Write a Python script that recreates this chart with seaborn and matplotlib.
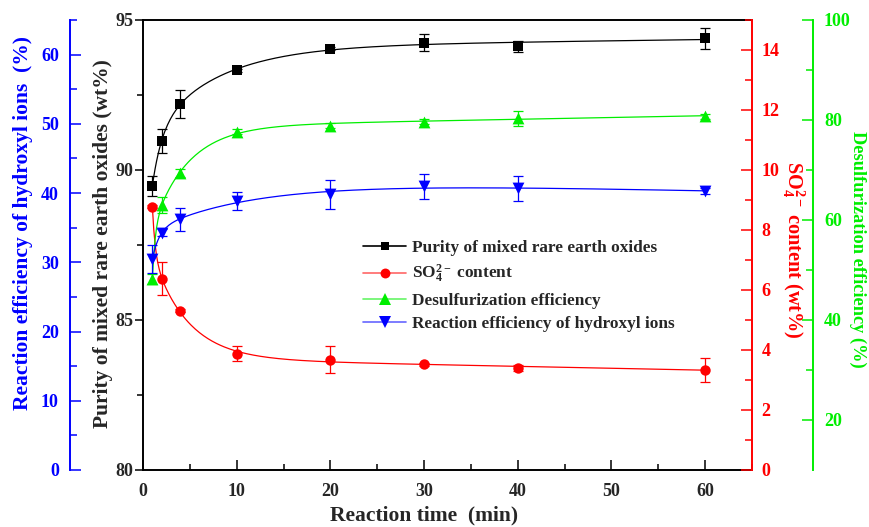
import numpy as np
import pandas as pd
import matplotlib
matplotlib.use("Agg")
import matplotlib.pyplot as plt
import seaborn as sns
from matplotlib.lines import Line2D
from matplotlib.ticker import MultipleLocator
from matplotlib.legend_handler import HandlerTuple

# ---- measured data ----
time_min = [1, 2, 4, 10, 20, 30, 40, 60]

purity = [89.48, 90.98, 92.21, 93.32, 94.05, 94.25, 94.13, 94.39]
purity_err = [0.33, 0.40, 0.47, 0.05, 0.05, 0.27, 0.18, 0.36]

so4 = [8.78, 6.38, 5.31, 3.88, 3.67, 3.53, 3.41, 3.34]
so4_err = [0.05, 0.54, 0.05, 0.24, 0.45, 0.05, 0.10, 0.39]

desulf = [48.2, 63.0, 69.4, 77.7, 78.9, 79.7, 80.4, 80.8]
desulf_err = [1.0, 1.6, 0.8, 0.5, 0.5, 0.5, 1.5, 0.5]

hydroxyl = [30.5, 34.25, 36.2, 38.9, 39.8, 41.0, 40.7, 40.3]
hydroxyl_err = [2.0, 0.5, 1.7, 1.3, 2.1, 1.8, 1.8, 0.5]

series_names = ["Purity of mixed rare earth oxides",
                r"SO$_\mathbf{4}^\mathbf{2-}$ content",
                "Desulfurization efficiency",
                "Reaction efficiency of hydroxyl ions"]

BLACK, RED, GREEN, BLUE = "#000000", "#ff0000", "#00ee00", "#0000ff"

sns.set_theme(style="ticks")
plt.rcParams["font.family"] = ["Liberation Serif", "DejaVu Serif"]
plt.rcParams["font.weight"] = "bold"
plt.rcParams["axes.labelweight"] = "bold"
plt.rcParams["mathtext.fontset"] = "custom"
plt.rcParams["mathtext.rm"] = "Liberation Serif:bold"
plt.rcParams["mathtext.bf"] = "Liberation Serif:bold"
plt.rcParams["mathtext.it"] = "Liberation Serif:bold:italic"
plt.rcParams["mathtext.default"] = "rm"


def smooth_fit(x, y, xs):
    """Least-squares fit of a + b*exp(-x/t1) + c*exp(-x/t2) + d*x."""
    x = np.asarray(x, float)
    y = np.asarray(y, float)
    best = None
    for t1 in np.geomspace(0.3, 15, 45):
        for t2 in np.geomspace(2, 200, 45):
            if t2 <= t1 * 1.5:
                continue
            A = np.column_stack([np.ones_like(x), np.exp(-x / t1),
                                 np.exp(-x / t2), x])
            coef, *_ = np.linalg.lstsq(A, y, rcond=None)
            if coef[1] * coef[2] < 0:
                continue
            r = np.sum((A @ coef - y) ** 2)
            if best is None or r < best[0]:
                best = (r, t1, t2, coef)
    _, t1, t2, c = best
    return c[0] + c[1] * np.exp(-xs / t1) + c[2] * np.exp(-xs / t2) + c[3] * xs


fig = plt.figure(figsize=(8.69, 5.27), dpi=100)
ax = fig.add_axes([143 / 869, 1 - 470 / 527, 609 / 869, 450 / 527])
ax_red = ax.twinx()
ax_green = ax.twinx()
ax_blue = ax.twinx()

ax_green.spines["right"].set_position(("axes", 1.10))
ax_blue.spines["left"].set_position(("axes", -0.12))
ax_blue.spines["left"].set_visible(True)
ax_blue.spines["right"].set_visible(False)
ax_blue.yaxis.set_label_position("left")
ax_blue.yaxis.set_ticks_position("left")

xs = np.linspace(1, 60, 400)
specs = [
    (ax, purity, purity_err, BLACK, "s", 6.5),
    (ax_red, so4, so4_err, RED, "o", 7.5),
    (ax_green, desulf, desulf_err, GREEN, "^", 8.5),
    (ax_blue, hydroxyl, hydroxyl_err, BLUE, "v", 8.5),
]

for a, vals, errs, col, mk, ms in specs:
    curve = pd.DataFrame({"t": xs, "v": smooth_fit(time_min, vals, xs)})
    sns.lineplot(data=curve, x="t", y="v", ax=a, color=col, lw=0.9,
                 legend=False, zorder=2)
    a.errorbar(time_min, vals, yerr=errs, fmt="none", ecolor=col,
               elinewidth=0.9, capsize=3.3, capthick=0.9, zorder=3)
    pts = pd.DataFrame({"t": time_min, "v": vals})
    sns.scatterplot(data=pts, x="t", y="v", ax=a, color=col, marker=mk,
                    s=ms ** 2, edgecolor=col, linewidth=0, legend=False,
                    zorder=4)
    a.set_xlabel("")
    a.set_ylabel("")

# ---- axes limits & ticks ----
ax.set_xlim(0, 65)
ax.set_ylim(80, 95)
ax_red.set_ylim(0, 15)
ax_green.set_ylim(10, 100)
ax_blue.set_ylim(0, 65)

ax.xaxis.set_major_locator(MultipleLocator(10))
ax.xaxis.set_minor_locator(MultipleLocator(5))
ax.yaxis.set_major_locator(MultipleLocator(5))
ax.yaxis.set_minor_locator(MultipleLocator(2.5))
ax_red.yaxis.set_major_locator(MultipleLocator(2))
ax_red.yaxis.set_minor_locator(MultipleLocator(1))
ax_green.set_yticks([20, 40, 60, 80, 100])
ax_green.set_yticks([30, 50, 70, 90], minor=True)
ax_blue.yaxis.set_major_locator(MultipleLocator(10))
ax_blue.yaxis.set_minor_locator(MultipleLocator(5))

tick_fs = 13
ax.tick_params(axis="x", which="both", direction="in", labelsize=tick_fs,
               width=1.1, color=BLACK, pad=9)
ax.tick_params(axis="x", which="major", length=7)
ax.tick_params(axis="x", which="minor", length=4)
ax.tick_params(axis="y", which="both", direction="out", labelsize=tick_fs,
               width=1.1, color=BLACK, pad=1)
ax.tick_params(axis="y", which="major", length=6)
ax.tick_params(axis="y", which="minor", length=4)

for a, col, side, pad in [(ax_red, RED, "right", 7), (ax_green, GREEN, "right", 8),
                          (ax_blue, BLUE, "left", 8)]:
    a.tick_params(axis="y", which="both", direction="in", colors=col,
                  labelsize=tick_fs, width=1.1, pad=pad)
    a.tick_params(axis="y", which="major", length=8)
    a.tick_params(axis="y", which="minor", length=5)
    for s in a.spines.values():
        s.set_visible(False)
    a.spines[side].set_visible(True)
    a.spines[side].set_color(col)
    a.spines[side].set_linewidth(1.4)
    for lab in a.get_yticklabels():
        lab.set_fontweight("bold")

for side in ["left", "bottom", "top"]:
    ax.spines[side].set_visible(True)
    ax.spines[side].set_color(BLACK)
    ax.spines[side].set_linewidth(1.4)
ax.spines["right"].set_visible(False)
for lab in ax.get_xticklabels() + ax.get_yticklabels():
    lab.set_fontweight("bold")

# ---- axis titles ----
ax.set_xlabel("Reaction time  (min)", fontsize=15.5, fontweight="bold")
ax.xaxis.set_label_coords(0.462, -0.102)
ax.xaxis.label.set_va("center")

ax.set_ylabel("Purity of mixed rare earth oxides (wt%)", fontsize=15.5,
              fontweight="bold")
ax_red.set_ylabel(r"SO$_\mathbf{4}^\mathbf{2-}$ content (wt%)", color=RED,
                  fontsize=14.6, fontweight="bold", rotation=270)
ax_green.set_ylabel("Desulfurization efficiency (%)", color=GREEN,
                    fontsize=13.2, fontweight="bold", rotation=270)
ax_blue.set_ylabel("Reaction efficiency of hydroxyl ions  (%)", color=BLUE,
                   fontsize=15.5, fontweight="bold")

for a, xpos, ypos in [(ax, -0.066, 0.503), (ax_red, 1.068, 0.489),
                      (ax_green, 1.174, 0.49), (ax_blue, -0.197, 0.549)]:
    a.yaxis.set_label_coords(xpos, ypos)
    a.yaxis.label.set_va("center")
    a.yaxis.label.set_ha("center")

# ---- legend ----
handles = []
for (_, _, _, col, mk, ms) in specs:
    line = Line2D([], [], color=col, lw=1.2, alpha=1.0 if col == BLACK else 0.6)
    mark = Line2D([], [], color=col, marker=mk, ls="none", ms=ms * 0.95,
                  markeredgewidth=0)
    handles.append((line, mark))

ax_blue.legend(handles, series_names, loc="upper left",
               bbox_to_anchor=(363 / 869, 1 - 240 / 527),
               bbox_transform=fig.transFigure, frameon=False,
               prop={"family": "Liberation Serif", "weight": "bold", "size": 12.4},
               handlelength=2.5, handletextpad=0.35, labelspacing=0.42,
               borderpad=0, borderaxespad=0,
               handler_map={tuple: HandlerTuple(ndivide=1)})

fig.savefig("out.png", dpi=100)
